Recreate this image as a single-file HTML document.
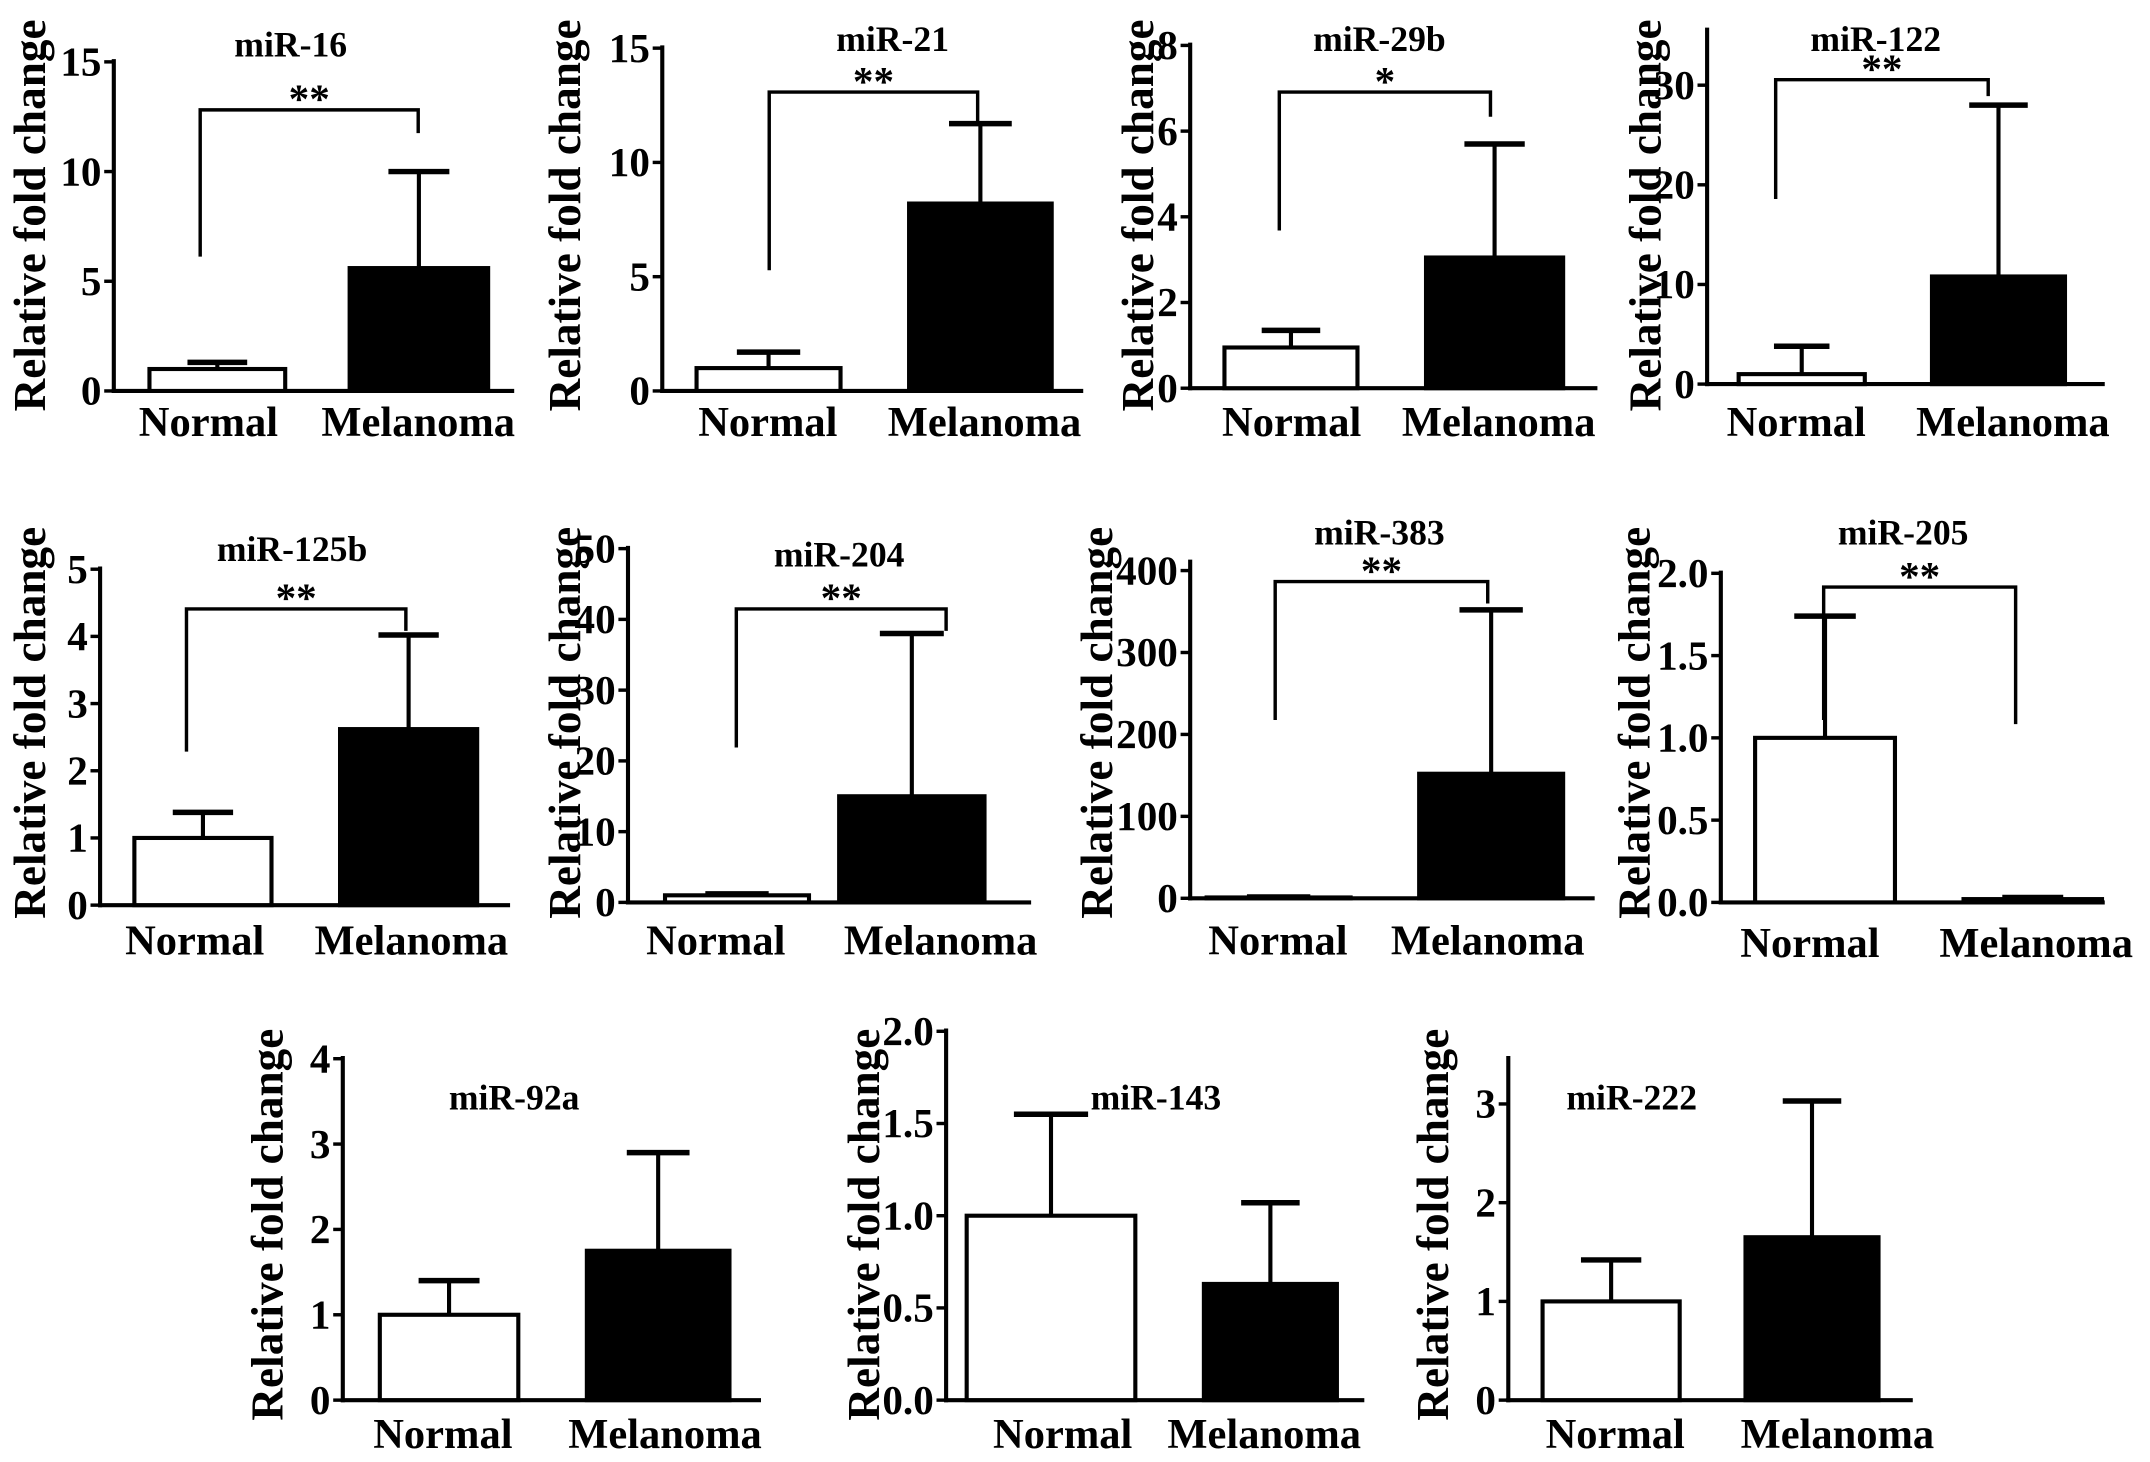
<!DOCTYPE html>
<html><head><meta charset="utf-8"><style>
html,body{margin:0;padding:0;background:#fff}
svg{display:block}
text{font-family:"Liberation Serif",serif;font-weight:bold;fill:#000}
</style></head><body>
<svg id="fig" width="2150" height="1462" viewBox="0 0 1568 1066" xmlns="http://www.w3.org/2000/svg"></svg>
<script>
const titles=["miR-16","miR-21","miR-29b","miR-122","miR-125b","miR-204","miR-383","miR-205","miR-92a","miR-143","miR-222"];
const normalVals=[1.0,1.0,0.95,1.0,1.0,1.0,1.0,1.0,1.0,1.0,1.0];
const normalErr=[1.3,1.7,1.35,3.8,1.38,1.2,1.5,1.74,1.4,1.55,1.42];
const melVals=[5.6,8.2,3.05,10.8,2.62,15,152,0.02,1.75,0.63,1.65];
const melErr=[10.0,11.7,5.7,28,4.02,38,352,0.03,2.9,1.07,3.03];
const sigLabels=["**","**","*","**","**","**","**","**","","",""];
const tickLabels=[["0","5","10","15"],["0","5","10","15"],["0","2","4","6","8"],["0","10","20","30"],["0","1","2","3","4","5"],["0","10","20","30","40","50"],["0","100","200","300","400"],["0.0","0.5","1.0","1.5","2.0"],["0","1","2","3","4"],["0.0","0.5","1.0","1.5","2.0"],["0","1","2","3"]];
const tickValues=[[0,5,10,15],[0,5,10,15],[0,2,4,6,8],[0,10,20,30],[0,1,2,3,4,5],[0,10,20,30,40,50],[0,100,200,300,400],[0,0.5,1,1.5,2],[0,1,2,3,4],[0,0.5,1,1.5,2],[0,1,2,3]];

const L=[
 {ax:83,y0:285,tv:15,ty:45,top:45,xe:375,nb:[109,208],mb:[255,356],br:[146,187,80,305,97],title:[212,32],yl:22,ylc:157,cn:152,cm:305,cy:318},
 {ax:483,y0:285,tv:15,ty:35,top:35,xe:790,nb:[508,613],mb:[663,767],br:[561,197,67,713,90],title:[651,28],yl:412,ylc:157,cn:560,cm:718,cy:318},
 {ax:868,y0:283,tv:8,ty:33,top:33,xe:1165,nb:[893,990],mb:[1040,1140],br:[933,168,67,1087,85],title:[1006,28],yl:830,ylc:157,cn:942,cm:1093,cy:318},
 {ax:1245,y0:280,tv:30,ty:62,top:22,xe:1535,nb:[1268,1360],mb:[1409,1506],br:[1295,145,58,1450,70],title:[1368,28],yl:1200,ylc:157,cn:1310,cm:1468,cy:318},
 {ax:73,y0:660,tv:5,ty:415,top:415,xe:372,nb:[98,198],mb:[248,348],br:[136,548,444,296,460],title:[213,400],yl:22,ylc:527,cn:142,cm:300,cy:696},
 {ax:458,y0:658,tv:50,ty:400,top:400,xe:752,nb:[485,590],mb:[612,718],br:[537,545,444,690,460],title:[612,404],yl:412,ylc:527,cn:522,cm:686,cy:696},
 {ax:868,y0:655,tv:400,ty:416,top:410,xe:1163,nb:[880,985],mb:[1035,1140],br:[930,525,424,1085,440],title:[1006,388],yl:800,ylc:527,cn:932,cm:1085,cy:696},
 {ax:1255,y0:658,tv:2,ty:418,top:418,xe:1535,nb:[1280,1382],mb:[1432,1533],br:[1330,525,428,1470,528],title:[1388,388],yl:1192,ylc:527,cn:1320,cm:1485,cy:698},
 {ax:250,y0:1021,tv:4,ty:772,top:772,xe:555,nb:[277,378],mb:[428,532],br:null,title:[375,800],yl:195,ylc:893,cn:323,cm:485,cy:1056},
 {ax:690,y0:1021,tv:2,ty:752,top:752,xe:995,nb:[705,828],mb:[878,975],br:null,title:[843,800],yl:630,ylc:893,cn:775,cm:922,cy:1056},
 {ax:1100,y0:1021,tv:3,ty:805,top:772,xe:1395,nb:[1125,1225],mb:[1273,1370],br:null,title:[1190,800],yl:1045,ylc:893,cn:1178,cm:1340,cy:1056}
];
const NS="http://www.w3.org/2000/svg";
const svg=document.getElementById('fig');
function mk(tag,attrs,parent){const e=document.createElementNS(NS,tag);for(const k in attrs)e.setAttribute(k,attrs[k]);parent.appendChild(e);return e;}
function line(p,x1,y1,x2,y2,w){return mk('line',{x1,y1,x2,y2,stroke:'#000','stroke-width':w||3},p);}
L.forEach((g,i)=>{
  const grp=mk('g',{},svg);
  
  
  const k=(g.y0-g.ty)/g.tv;
  const y=v=>g.y0-v*k;
  const ya=line(grp,g.ax,g.top-2,g.ax,g.y0+1.5);
  
  
  const xa=line(grp,g.ax-1.5,g.y0,g.xe,g.y0);
  
  
  tickValues[i].forEach((tv,j)=>{
    line(grp,g.ax-7,y(tv),g.ax,y(tv),2.5);
    const t=mk('text',{x:g.ax-9,y:y(tv)+10,'text-anchor':'end','font-size':30},grp);
    t.textContent=tickLabels[i][j];
    
    
  });
  [[g.nb,normalVals[i],normalErr[i]],[g.mb,melVals[i],melErr[i]]].forEach(([b,v,e])=>{
    const cx=(b[0]+b[1])/2, hw=(b[1]-b[0])*0.22;
    if(e>v){
      line(grp,cx,y(v),cx,y(e),3);
      const cap=line(grp,cx-hw,y(e),cx+hw,y(e),4);
      
      
    }
  });
  const nb=mk('rect',{x:g.nb[0],y:y(normalVals[i]),width:g.nb[1]-g.nb[0],height:g.y0-y(normalVals[i]),fill:'#fff',stroke:'#000','stroke-width':3},grp);
  
  
  const mh=Math.max(2,g.y0-y(melVals[i]));
  const mb=mk('rect',{x:g.mb[0],y:g.y0-mh,width:g.mb[1]-g.mb[0],height:mh,fill:'#000',stroke:'#000','stroke-width':3},grp);
  
  
  if(g.br){
    const b=g.br;
    const br=mk('polyline',{points:`${b[0]},${b[1]} ${b[0]},${b[2]} ${b[3]},${b[2]} ${b[3]},${b[4]}`,fill:'none',stroke:'#000','stroke-width':2.5},grp);
    
    
    const s=mk('text',{x:(b[0]+b[3])/2,y:b[2]+2,'text-anchor':'middle','font-size':30},grp);
    s.textContent=sigLabels[i];
    
    
  }
  const tt=mk('text',{x:g.title[0],y:g.title[1]+9,'text-anchor':'middle','font-size':26},grp);
  tt.textContent=titles[i];
  
  
  const yl=mk('text',{x:0,y:0,'text-anchor':'middle','font-size':33,transform:`translate(${g.yl+11},${g.ylc}) rotate(-90)`},grp);
  yl.textContent='Relative fold change';
  
  
  const c1=mk('text',{x:g.cn,y:g.cy,'text-anchor':'middle','font-size':31},grp);
  c1.textContent='Normal';
  
  
  const c2=mk('text',{x:g.cm,y:g.cy,'text-anchor':'middle','font-size':31},grp);
  c2.textContent='Melanoma';
  
  
});
</script>
</body></html>
